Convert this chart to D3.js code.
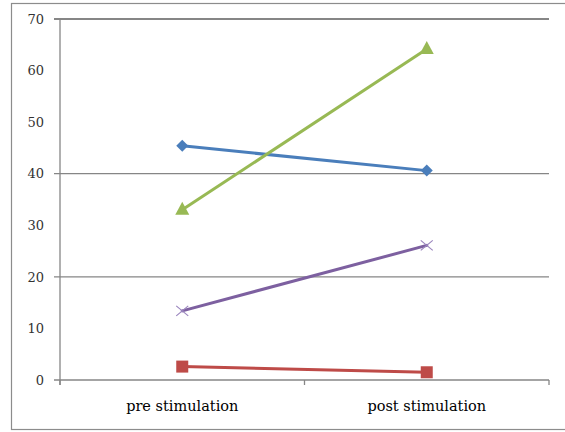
<!DOCTYPE html>
<html>
<head>
<meta charset="utf-8">
<script src="https://cdn.jsdelivr.net/npm/d3@7"></script>
<style>
html,body{margin:0;padding:0;background:#fff;}
svg{display:block;}
</style>
</head>
<body>
<svg id="chart" width="565" height="432"></svg>
<script>
const categories = ["pre stimulation", "post stimulation"];
const seriesBlue = [45.4, 40.6];
const seriesRed = [2.6, 1.5];
const seriesGreen = [33.0, 64.2];
const seriesPurple = [13.4, 26.1];
const yTickValues = [0, 10, 20, 30, 40, 50, 60, 70];
const gridValues = [20, 40, 70];

const series = [
  {name: "blue", values: seriesBlue, color: "#4A7EBB", marker: "diamond"},
  {name: "red", values: seriesRed, color: "#BE4B48", marker: "square"},
  {name: "green", values: seriesGreen, color: "#98B954", marker: "triangle"},
  {name: "purple", values: seriesPurple, color: "#7D60A0", marker: "x"}
];

const svg = d3.select("#chart");
const mLeft = 60, mRight = 549, mTop = 19, mBottom = 380;

// outer border
svg.append("rect").attr("x", 11.5).attr("y", 3.5).attr("width", 570).attr("height", 426)
  .attr("fill", "none").attr("stroke", "#8c8c8c").attr("stroke-width", 1.2);

const x = d3.scaleBand().domain(categories).range([mLeft, mRight]).paddingInner(0).paddingOuter(0);
const y = d3.scaleLinear().domain([0, 70]).range([mBottom, mTop]);
const cx = c => x(c) + x.bandwidth() / 2;

// gridlines
svg.append("g").selectAll("line").data(gridValues).join("line")
  .attr("x1", mLeft - 6).attr("x2", mRight)
  .attr("y1", d => y(d)).attr("y2", d => y(d))
  .attr("stroke", "#868686").attr("stroke-width", d => d === 70 ? 2 : 1.3);

// y axis line
svg.append("line").attr("x1", mLeft).attr("x2", mLeft).attr("y1", y(70)).attr("y2", mBottom + 5)
  .attr("stroke", "#868686").attr("stroke-width", 1.3);

// x axis
const xAxis = d3.axisBottom(x).tickSize(0).tickFormat(d => d);
const gx = svg.append("g").attr("transform", `translate(0,${mBottom})`).call(xAxis);
gx.select(".domain").remove();
gx.selectAll("text").attr("font-family", "DejaVu Serif").attr("font-size", 14.5)
  .attr("fill", "#000").attr("dy", 0).attr("y", 31);
svg.append("line").attr("x1", mLeft - 6).attr("x2", mRight).attr("y1", mBottom).attr("y2", mBottom)
  .attr("stroke", "#868686").attr("stroke-width", 1.3);
// category boundary ticks
const boundaries = [x(categories[0]), x(categories[1]), x(categories[1]) + x.bandwidth()];
svg.append("g").selectAll("line").data(boundaries).join("line")
  .attr("x1", d => d).attr("x2", d => d).attr("y1", mBottom).attr("y2", mBottom + 5)
  .attr("stroke", "#868686").attr("stroke-width", 1.3);

// y tick labels
const yAxis = d3.axisLeft(y).tickValues(yTickValues).tickSize(0).tickPadding(0);
const gy = svg.append("g").attr("transform", `translate(${mLeft - 16},0)`).call(yAxis);
gy.select(".domain").remove();
gy.selectAll("text").attr("font-family", "DejaVu Serif").attr("font-size", 13)
  .attr("fill", "#333");

// lines
const line = d3.line().x((d, i) => cx(categories[i])).y(d => y(d));
svg.append("g").selectAll("path").data(series).join("path")
  .attr("d", s => line(s.values))
  .attr("fill", "none").attr("stroke", s => s.color).attr("stroke-width", 3)
  .attr("stroke-linecap", "round");

// markers
series.forEach(s => {
  const g = svg.append("g");
  s.values.forEach((v, i) => {
    const px = cx(categories[i]), py = y(v);
    if (s.marker === "diamond") {
      g.append("path").attr("d", `M${px},${py-6}L${px+6},${py}L${px},${py+6}L${px-6},${py}Z`).attr("fill", s.color);
    } else if (s.marker === "square") {
      g.append("rect").attr("x", px - 6).attr("y", py - 6).attr("width", 12).attr("height", 12).attr("fill", s.color);
    } else if (s.marker === "triangle") {
      g.append("path").attr("d", `M${px},${py-8}L${px+7},${py+5}L${px-7},${py+5}Z`).attr("fill", s.color);
    } else if (s.marker === "x") {
      g.append("path").attr("d", `M${px-6},${py-5}L${px+6},${py+5}M${px-6},${py+5}L${px+6},${py-5}`)
        .attr("stroke", "#9B86BE").attr("stroke-width", 1.2).attr("fill", "none");
    }
  });
});
</script>
</body>
</html>
